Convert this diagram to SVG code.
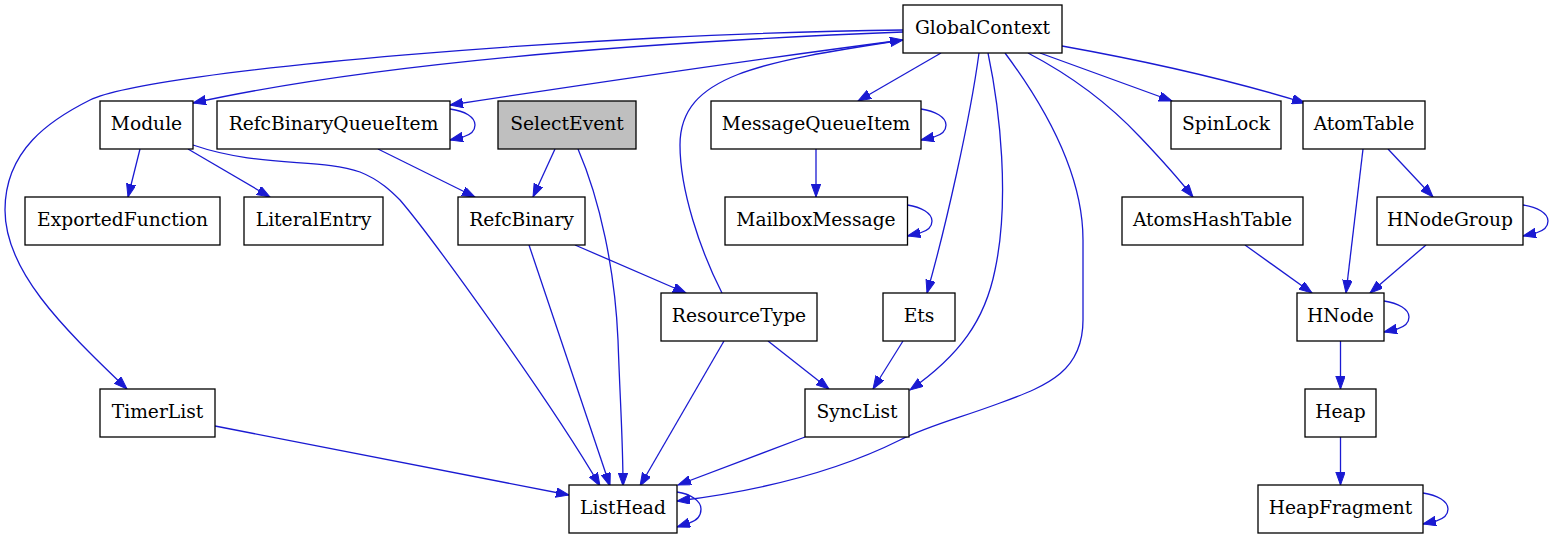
<svg xmlns="http://www.w3.org/2000/svg" width="1556" height="539" viewBox="0 0 1556 539">
<style>
.n rect{fill:#ffffff;stroke:#000000;stroke-width:1.3}
.n text{font-family:"DejaVu Serif",serif;font-size:18.67px;text-anchor:middle;fill:#000000}
#edges path{fill:none;stroke:#1a1ad2;stroke-width:1.3;marker-end:url(#ah)}
</style>
<defs>
<marker id="ah" markerUnits="userSpaceOnUse" markerWidth="14" markerHeight="10" refX="13" refY="4.7" orient="auto">
<path d="M0,0 L13,4.7 L0,9.4 z" fill="#1a1ad2" stroke="#1a1ad2" stroke-width="1"/>
</marker>
</defs>
<rect width="1556" height="539" fill="#ffffff"/>
<g id="edges">
<path d="M903,32 C650,42 380,62 193,103"/>
<path d="M903,30 C600,33 150,70 90,100 C50,120 5,150 5,210 C5,270 60,325 127,389"/>
<path d="M903,40 C750,60 600,82 450,105"/>
<path d="M450,109 C465,111 475,117 475,125 C475,131 470,135 463,137 L450,140"/>
<path d="M722,293 C700,250 680,190 680,145 C680,75 760,62 903,40"/>
<path d="M941,53 L858,101"/>
<path d="M921,109 C935,111 946,117 946,125 C946,131 941,135 934,137 L921,140"/>
<path d="M816,149 L816,197"/>
<path d="M907.5,205 C921,207 932,213 932,221 C932,227 927,231 920,233 L907.5,236"/>
<path d="M979,53 C970,120 945,230 927,293"/>
<path d="M988,53 C1000,110 1010,200 995,270 C985,320 960,355 910,390"/>
<path d="M1005,53 C1040,100 1083,170 1083,240 L1083,320 C1083,370 1050,385 1000,403 C960,418 930,425 900,440 C830,475 750,492 677,501"/>
<path d="M1028,53 C1070,75 1110,105 1140,137 C1160,158 1178,178 1193,197"/>
<path d="M1040,53 L1172,101"/>
<path d="M1062,46 C1140,60 1230,80 1305,103"/>
<path d="M1388,149 L1433,197"/>
<path d="M1363,149 L1346,293"/>
<path d="M1523,205 C1537,207 1548,213 1548,221 C1548,227 1543,231 1536,233 L1523,236"/>
<path d="M1426,245 L1370,293"/>
<path d="M1245,245 L1312,293"/>
<path d="M1384,301 C1398,303 1409,309 1409,317 C1409,323 1404,327 1397,329 L1384,332"/>
<path d="M1340.5,341 L1340.5,389"/>
<path d="M1340.5,437 L1340.5,485"/>
<path d="M1423,493 C1437,495 1448,501 1448,509 C1448,515 1443,519 1436,521 L1423,524"/>
<path d="M140,149 L128,197"/>
<path d="M188,149 L270,197"/>
<path d="M193,145 C260,168 320,158 360,172 C380,180 392,192 400,200 C430,235 550,400 600,486"/>
<path d="M378,149 L475,197"/>
<path d="M555,149 L533,197"/>
<path d="M578,149 C600,200 615,270 618,340 C620,400 623,440 623,486"/>
<path d="M575,245 L686,293"/>
<path d="M529,245 L610,486"/>
<path d="M768,341 L829,389"/>
<path d="M724,341 L640,486"/>
<path d="M903,341 L873,389"/>
<path d="M805,437 L678,485"/>
<path d="M215,426 L569,495"/>
<path d="M677,492 C691,494 701,501 701,509 C701,516 696,521 689,523 L677,527"/>
</g>
<g id="GlobalContext" class="n"><rect x="903" y="5" width="159" height="48"/><text x="982.5" y="34">GlobalContext</text></g>
<g id="Module" class="n"><rect x="100" y="101" width="93" height="48"/><text x="146.5" y="130">Module</text></g>
<g id="RefcBinaryQueueItem" class="n"><rect x="217" y="101" width="233" height="48"/><text x="333.5" y="130">RefcBinaryQueueItem</text></g>
<g id="SelectEvent" class="n"><rect x="498" y="101" width="138" height="48" style="fill:#bfbfbf"/><text x="567" y="130">SelectEvent</text></g>
<g id="MessageQueueItem" class="n"><rect x="711" y="101" width="210" height="48"/><text x="816" y="130">MessageQueueItem</text></g>
<g id="SpinLock" class="n"><rect x="1171" y="101" width="110" height="48"/><text x="1226" y="130">SpinLock</text></g>
<g id="AtomTable" class="n"><rect x="1303" y="101" width="122" height="48"/><text x="1364" y="130">AtomTable</text></g>
<g id="ExportedFunction" class="n"><rect x="25" y="197" width="195" height="48"/><text x="122.5" y="226">ExportedFunction</text></g>
<g id="LiteralEntry" class="n"><rect x="244" y="197" width="139" height="48"/><text x="313.5" y="226">LiteralEntry</text></g>
<g id="RefcBinary" class="n"><rect x="458" y="197" width="127" height="48"/><text x="521.5" y="226">RefcBinary</text></g>
<g id="MailboxMessage" class="n"><rect x="725" y="197" width="182.5" height="48"/><text x="816" y="226">MailboxMessage</text></g>
<g id="AtomsHashTable" class="n"><rect x="1122" y="197" width="181" height="48"/><text x="1212.5" y="226">AtomsHashTable</text></g>
<g id="HNodeGroup" class="n"><rect x="1377" y="197" width="146" height="48"/><text x="1450" y="226">HNodeGroup</text></g>
<g id="ResourceType" class="n"><rect x="661" y="293" width="156" height="48"/><text x="739" y="322">ResourceType</text></g>
<g id="Ets" class="n"><rect x="883" y="293" width="72" height="48"/><text x="919" y="322">Ets</text></g>
<g id="HNode" class="n"><rect x="1297" y="293" width="87" height="48"/><text x="1340.5" y="322">HNode</text></g>
<g id="TimerList" class="n"><rect x="100" y="389" width="115" height="48"/><text x="157.5" y="418">TimerList</text></g>
<g id="SyncList" class="n"><rect x="805" y="389" width="104" height="48"/><text x="857" y="418">SyncList</text></g>
<g id="Heap" class="n"><rect x="1305" y="389" width="71" height="48"/><text x="1340.5" y="418">Heap</text></g>
<g id="ListHead" class="n"><rect x="569" y="485" width="108" height="48"/><text x="623" y="514">ListHead</text></g>
<g id="HeapFragment" class="n"><rect x="1258" y="485" width="165" height="48"/><text x="1340.5" y="514">HeapFragment</text></g>
</svg>
